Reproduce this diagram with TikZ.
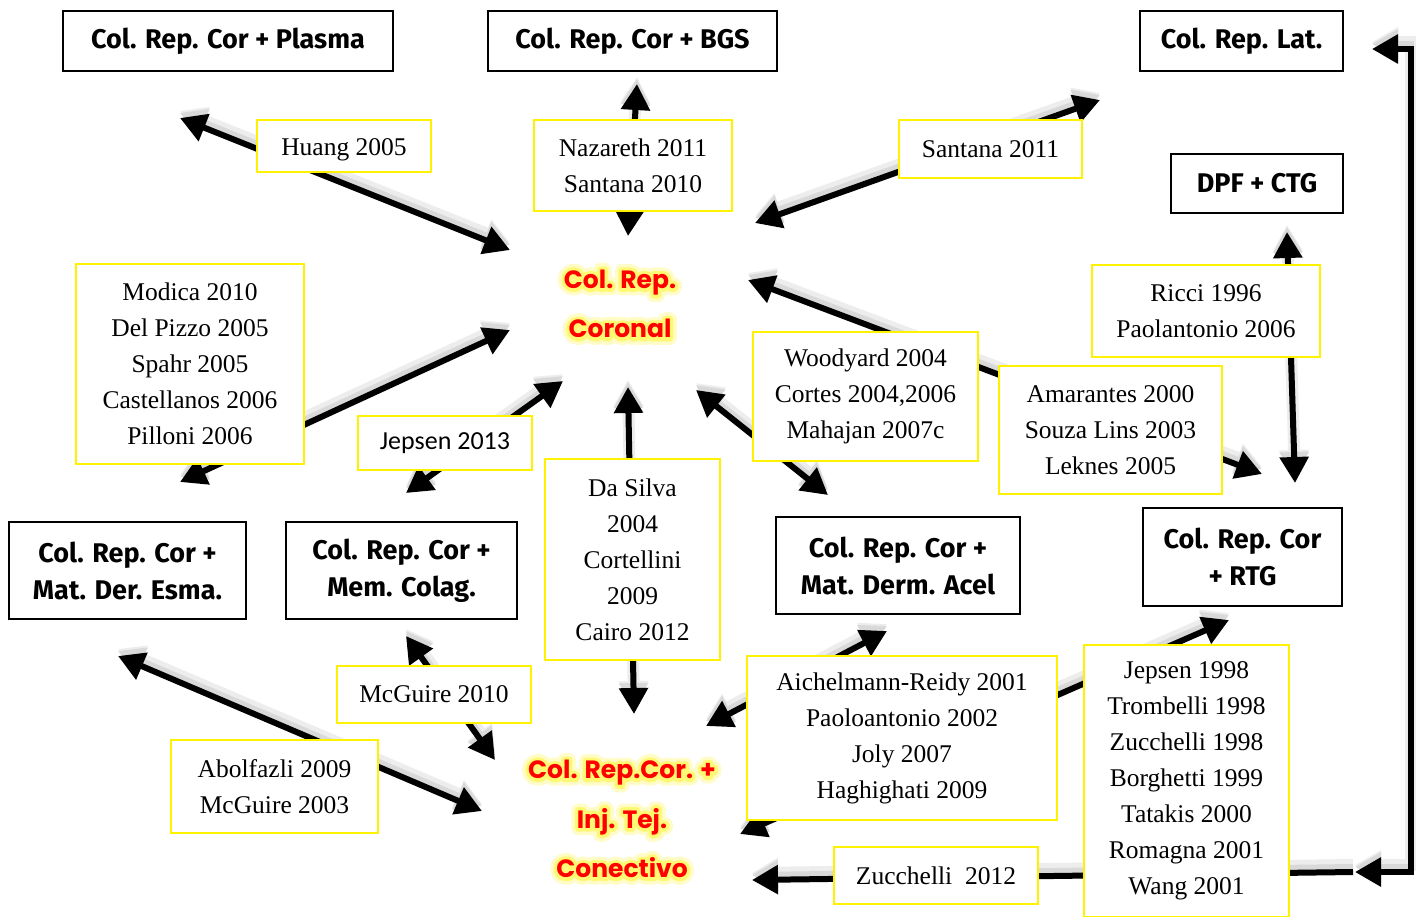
\documentclass[tikz,border=0pt]{standalone}
\usepackage{fontspec}
\setmainfont{Liberation Serif}
\newfontfamily\boxfont{Fira Sans}
\newfontfamily\redfont{Poppins}
\newfontfamily\calfont{Carlito}
\usetikzlibrary{arrows.meta}
\tikzset{
  conn/.style={line width=6pt, line join=miter,
    {Triangle[length=26pt,width=28pt]}-{Triangle[length=26pt,width=28pt]}},
  conn1/.style={line width=6pt, -{Triangle[length=26pt,width=28pt]}},
  shadowa/.style={draw=black!7, line width=12pt, transform canvas={yshift=7pt}},
  shadowb/.style={draw=black!15, transform canvas={yshift=5pt}},
  blackbox/.style={draw=black, line width=2.5pt, fill=white, align=center, inner sep=0pt,
    font=\boxfont\bfseries\fontsize{27}{37}\selectfont},
  yelbox/.style={draw=yellow, line width=2.5pt, fill=white, align=center, inner sep=0pt,
    font=\fontsize{25.5}{36}\selectfont},
  redtxt/.style={align=center, inner sep=0pt, font=\redfont\bfseries\fontsize{25}{49.5}\selectfont}
}
\newcommand\myarrow[2]{%
  \draw[conn, shadowa] (#1) -- (#2);
  \draw[conn, shadowb] (#1) -- (#2);
  \draw[conn] (#1) -- (#2);}
\newcommand\strk[2]{\special{pdf:literal direct 2 Tr #1 w 1 J 1 j}#2}
\newcommand\glownode[3]{%
  \node[redtxt, text=yellow!22] at (#2) {\strk{14}{#3}};
  \node[redtxt, text=yellow!55] at (#2) {\strk{7}{#3}};
  \node[redtxt, text=red] (#1) at (#2) {#3};}
\begin{document}
\begin{tikzpicture}[x=1pt,y=-1pt]
\useasboundingbox (0,0) rectangle (1416,916);
\fill[white] (0,0) rectangle (1416,916);
% arrow end points
\coordinate (hA) at (180,118);  \coordinate (hB) at (510,250);
\coordinate (nA) at (637,84);   \coordinate (nB) at (628,236);
\coordinate (sA) at (1100,100); \coordinate (sB) at (755,223);
\coordinate (mA) at (180,482);  \coordinate (mB) at (510,330);
\coordinate (jA) at (406,493);  \coordinate (jB) at (563,381);
\coordinate (dA) at (628,387);  \coordinate (dB) at (634,714);
\coordinate (wA) at (696,390);  \coordinate (wB) at (828,495);
\coordinate (aA) at (748,280);  \coordinate (aB) at (1262,474);
\coordinate (rA) at (1287,232); \coordinate (rB) at (1295,483);
\coordinate (gA) at (406,636);  \coordinate (gB) at (495,760);
\coordinate (bA) at (118,656);  \coordinate (bB) at (482,811);
\coordinate (cA) at (887,631);  \coordinate (cB) at (706,726);
\coordinate (eA) at (1229,620); \coordinate (eB) at (740,834);
\coordinate (zA) at (1353,872); \coordinate (zB) at (752,880);
\coordinate (lA) at (1372,49);  \coordinate (lB) at (1355,872);
\coordinate (lc1) at (1411,872); \coordinate (lc2) at (1411,49);
% arrows
\myarrow{hA}{hB}
\myarrow{nA}{nB}
\myarrow{sA}{sB}
\myarrow{mA}{mB}
\myarrow{jA}{jB}
\myarrow{dA}{dB}
\myarrow{wA}{wB}
\myarrow{aA}{aB}
\myarrow{rA}{rB}
\myarrow{gA}{gB}
\myarrow{bA}{bB}
\myarrow{cA}{cB}
\myarrow{eA}{eB}
\draw[conn1, shadowa] (zA) -- (zB);
\draw[conn1, shadowb] (zA) -- (zB);
\draw[conn1] (zA) -- (zB);
\draw[conn, shadowa] (lB) -- (lc1) -- (lc2) -- (lA);
\draw[conn, shadowb] (lB) -- (lc1) -- (lc2) -- (lA);
\draw[conn] (lB) -- (lc1) -- (lc2) -- (lA);
% black boxes
\node[blackbox, minimum width=330pt, minimum height=60pt] (plas) at (228,41) {Col. Rep. Cor + Plasma};
\node[blackbox, minimum width=289pt, minimum height=60pt] (bgs) at (632.5,41) {Col. Rep. Cor + BGS};
\node[blackbox, minimum width=203pt, minimum height=60pt] (lat) at (1241.5,41) {Col. Rep. Lat.};
\node[blackbox, minimum width=172pt, minimum height=59pt] (dpf) at (1257,183.5) {DPF + CTG};
\node[blackbox, minimum width=237pt, minimum height=97pt] (esma) at (127.5,570.5) {Col. Rep. Cor +\\Mat. Der. Esma.};
\node[blackbox, minimum width=231pt, minimum height=97pt] (colag) at (401.5,570.5) {Col. Rep. Cor +\\Mem. Colag.};
\node[blackbox, minimum width=244pt, minimum height=97pt] (acel) at (898,565.5) {Col. Rep. Cor +\\Mat. Derm. Acel};
\node[blackbox, minimum width=199pt, minimum height=98pt] (rtg) at (1242.5,557) {Col. Rep. Cor\\+ RTG};
% yellow label boxes
\node[yelbox, minimum width=174pt, minimum height=52pt] (huang) at (344,146) {\raisebox{-4pt}[\height][\depth]{Huang 2005}};
\node[yelbox, minimum width=198pt, minimum height=91pt] (naz) at (633,165.5) {Nazareth 2011\\Santana 2010};
\node[yelbox, minimum width=183pt, minimum height=58pt] (san) at (990.5,149) {Santana 2011};
\node[yelbox, minimum width=228pt, minimum height=200pt] (mod) at (190,364) {Modica 2010\\Del Pizzo 2005\\Spahr 2005\\Castellanos 2006\\Pilloni 2006};
\node[yelbox, minimum width=174pt, minimum height=54pt, font=\calfont\fontsize{26}{36}\selectfont] (jep13) at (445,443) {Jepsen 2013};
\node[yelbox, minimum width=175pt, minimum height=201pt] (dasil) at (632.5,559.5) {Da Silva\\2004\\Cortellini\\2009\\Cairo 2012};
\node[yelbox, minimum width=225pt, minimum height=129pt] (wood) at (865.5,396.5) {Woodyard 2004\\Cortes 2004,2006\\Mahajan 2007c};
\node[yelbox, minimum width=228pt, minimum height=92pt] (ricci) at (1206,311) {Ricci 1996\\Paolantonio 2006};
\node[yelbox, minimum width=223pt, minimum height=128pt] (amar) at (1110.5,430) {Amarantes 2000\\Souza Lins 2003\\Leknes 2005};
\node[yelbox, minimum width=194pt, minimum height=57pt] (mcg) at (434,694.5) {McGuire 2010};
\node[yelbox, minimum width=207pt, minimum height=93pt] (abol) at (274.5,786.5) {Abolfazli 2009\\McGuire 2003};
\node[yelbox, minimum width=310pt, minimum height=164pt] (aich) at (902,738) {Aichelmann-Reidy 2001\\Paoloantonio 2002\\Joly 2007\\Haghighati 2009};
\node[yelbox, minimum width=205pt, minimum height=272pt] (jep98) at (1186.5,781) {Jepsen 1998\\Trombelli 1998\\Zucchelli 1998\\Borghetti 1999\\Tatakis 2000\\Romagna 2001\\Wang 2001};
\node[yelbox, minimum width=204pt, minimum height=57pt] (zuc) at (936,875.5) {Zucchelli\ \ 2012};
% red glowing titles
\glownode{cor}{620,304}{Col. Rep.\\Coronal}
\glownode{inj}{622,819}{Col. Rep.Cor. +\\Inj. Tej.\\Conectivo}
\end{tikzpicture}
\end{document}
